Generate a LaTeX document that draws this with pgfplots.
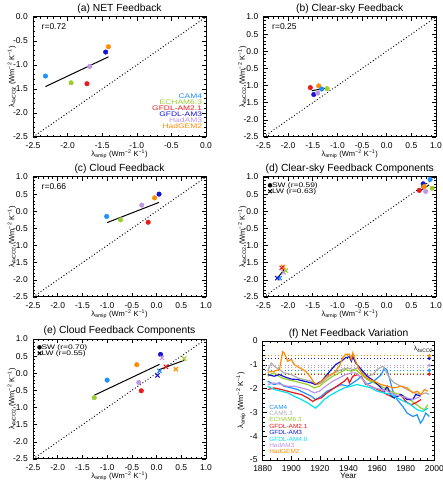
\documentclass[border=0pt]{standalone}
\usepackage{fontspec}
\setmainfont{Liberation Sans}
\newfontfamily\widesans[FakeStretch=1.28]{Liberation Sans}
\newfontfamily\narrowsans[FakeStretch=1.08]{Liberation Sans}
\usepackage{pgfplots}
\pgfplotsset{compat=1.18}

\definecolor{cCAMfour}{RGB}{30,144,255}
\definecolor{cCAMfive}{RGB}{175,175,175}
\definecolor{cECHAM}{RGB}{154,205,50}
\definecolor{cAMtwo}{RGB}{235,25,25}
\definecolor{cAMthree}{RGB}{20,20,210}
\definecolor{cAMfour}{RGB}{0,225,240}
\definecolor{cHadAM}{RGB}{190,150,230}
\definecolor{cHadGEM}{RGB}{255,140,0}

\newcommand{\lam}[1]{λ\textsubscript{#1}}
\newcommand{\units}{(Wm\textsuperscript{−2} K\textsuperscript{−1})}
% one filled model dot / one cross
\newcommand{\dotpt}[3]{\addplot[only marks, mark=*, mark size=2.3pt, color=#1, forget plot] coordinates {(#2,#3)};}
\newcommand{\crosspt}[3]{\addplot[only marks, mark=x, mark size=3pt, line width=1.1pt, color=#1, forget plot] coordinates {(#2,#3)};}

\tikzset{rtext/.style={anchor=west, font=\fontsize{8.5}{9}\selectfont}}

\pgfplotsset{
  every axis title shift=0pt,
  frame/.style={
    scale only axis, anchor=south west,
    tick align=inside,
    major tick length=4pt, minor tick length=2pt,
    axis line style={line width=1pt},
    every tick/.style={black, line width=0.6pt},
    ticklabel style={font=\fontsize{8.5}{9}\selectfont},
    xticklabel style={anchor=north, inner sep=0pt, yshift=-5pt},
    yticklabel style={anchor=east, inner sep=0pt, xshift=-5pt},
    /pgf/number format/assume math mode=true,
    title style={font=\fontsize{10.3}{11}\selectfont, at={(0.5,1)}, anchor=base, inner sep=0pt, yshift=5pt},
    label style={font=\fontsize{7.5}{8}\selectfont, inner sep=0pt},
    clip=false,
  },
  fb/.style={
    frame, width=173pt, height=120pt,
    xmin=-2.5, xmax=1, ymin=-2.5, ymax=1,
    xtick={-2.5,-2.0,-1.5,-1.0,-0.5,0.0,0.5,1.0},
    ytick={-2.5,-2.0,-1.5,-1.0,-0.5,0.0,0.5,1.0},
    minor tick num=4,
    /pgf/number format/fixed, /pgf/number format/fixed zerofill, /pgf/number format/precision=1,
    xlabel={\lam{amip} \units},
    ylabel={\lam{4xCO2} \units},
    xlabel style={at={(axis description cs:0.5,-0.145)}, anchor=center},
    ylabel style={at={(axis description cs:-0.123,0.5)}, anchor=center},
  },
  oneone/.style={black, line width=1pt, dash pattern=on 0.9pt off 2.2pt, forget plot},
  reg/.style={black, line width=1pt, forget plot},
  level/.style={#1, line width=0.8pt, dash pattern=on 0.9pt off 2.4pt},
  enddot/.style={#1, only marks, mark=*, mark size=1.5pt},
  series/.style={#1, line width=1.2pt},
  comp legend/.style={
    legend style={at={(0.025,0.955)}, anchor=north west, draw=none, fill=none,
      font=\widesans\fontsize{6.6}{7}\selectfont, row sep=0.6pt, inner sep=0pt,
      nodes={inner sep=0pt, text height=4.6pt, text depth=0.8pt}},
    legend cell align=left,
  },
}

\begin{document}
\begin{tikzpicture}
\path[use as bounding box] (0,0) rectangle (442pt,489pt);

% (a) net feedback
\begin{axis}[fb, at={(33pt,352pt)}, xmax=0, ymax=0,
  xtick={-2.5,-2.0,-1.5,-1.0,-0.5,0.0}, ytick={-2.5,-2.0,-1.5,-1.0,-0.5,0.0},
  title={(a) NET Feedback}]
\addplot[oneone] coordinates {(-2.5,-2.5) (0,0)};
\addplot[reg] coordinates {(-2.32,-1.45) (-1.41,-0.83)};
\dotpt{cCAMfour}{-2.32}{-1.23}
\dotpt{cECHAM}{-1.95}{-1.37}
\dotpt{cAMtwo}{-1.72}{-1.39}
\dotpt{cAMthree}{-1.45}{-0.73}
\dotpt{cHadAM}{-1.68}{-1.03}
\dotpt{cHadGEM}{-1.41}{-0.62}
\node[rtext] at (rel axis cs:0.03,0.92) {r=0.72};
\begin{scope}[every node/.style={anchor=east, font=\widesans\fontsize{6.6}{7}\selectfont, inner sep=0pt, text height=4.6pt, text depth=0.6pt}]
\node[text=cCAMfour] at (rel axis cs:0.978,0.340) {CAM4};
\node[text=cECHAM]   at (rel axis cs:0.978,0.290) {ECHAM6.3};
\node[text=cAMtwo]   at (rel axis cs:0.978,0.240) {GFDL-AM2.1};
\node[text=cAMthree] at (rel axis cs:0.978,0.190) {GFDL-AM3};
\node[text=cHadAM]   at (rel axis cs:0.978,0.140) {HadAM3};
\node[text=cHadGEM]  at (rel axis cs:0.978,0.090) {HadGEM2};
\end{scope}
\end{axis}

% (b) clear-sky feedback
\begin{axis}[fb, at={(263.5pt,352pt)}, width=172.5pt, title={(b) Clear-sky Feedback}]
\addplot[oneone] coordinates {(-2.5,-2.5) (1,1)};
\dotpt{cAMtwo}{-1.55}{-1.06}
\dotpt{cHadGEM}{-1.38}{-1.01}
\dotpt{cAMthree}{-1.48}{-1.26}
\dotpt{cHadAM}{-1.40}{-1.22}
\dotpt{cCAMfour}{-1.32}{-1.10}
\dotpt{cECHAM}{-1.21}{-1.09}
\addplot[reg] coordinates {(-1.52,-1.15) (-1.24,-1.08)};
\node[rtext] at (rel axis cs:0.03,0.92) {r=0.25};
\end{axis}

% (c) cloud feedback
\begin{axis}[fb, at={(33pt,192pt)}, title={(c) Cloud Feedback}]
\addplot[oneone] coordinates {(-2.5,-2.5) (1,1)};
\addplot[reg] coordinates {(-1.00,-0.33) (0.05,0.26)};
\dotpt{cCAMfour}{-1.01}{-0.15}
\dotpt{cECHAM}{-0.73}{-0.25}
\dotpt{cHadAM}{-0.30}{0.18}
\dotpt{cHadGEM}{-0.04}{0.39}
\dotpt{cAMthree}{0.05}{0.50}
\dotpt{cAMtwo}{-0.17}{-0.32}
\node[rtext] at (rel axis cs:0.03,0.92) {r=0.66};
\end{axis}

% (d) clear-sky components
\begin{axis}[fb, at={(263.5pt,192pt)}, width=172.5pt, comp legend,
  title={(d) Clear-sky Feedback Components}]
\addlegendimage{only marks, mark=*, mark size=2pt, black}
\addlegendentry{SW (r=0.59)}
\addlegendimage{only marks, mark=x, mark size=2.5pt, line width=1.1pt, black}
\addlegendentry{LW (r=0.63)}
\addplot[oneone] coordinates {(-2.5,-2.5) (1,1)};
\dotpt{cCAMfour}{0.88}{0.93}
\dotpt{cAMthree}{0.74}{0.80}
\dotpt{cHadGEM}{0.76}{0.72}
\dotpt{cAMtwo}{0.66}{0.61}
\dotpt{cHadAM}{0.79}{0.58}
\dotpt{cECHAM}{0.92}{0.67}
\addplot[reg] coordinates {(0.66,0.58) (0.86,0.77)};
\crosspt{cCAMfour}{-2.17}{-1.95}
\crosspt{cAMthree}{-2.22}{-1.95}
\crosspt{cHadAM}{-2.09}{-1.78}
\crosspt{cECHAM}{-2.05}{-1.73}
\crosspt{cHadGEM}{-2.10}{-1.62}
\crosspt{cAMtwo}{-2.13}{-1.65}
\addplot[reg] coordinates {(-2.20,-1.92) (-2.08,-1.70)};
\end{axis}

% (e) cloud components
\begin{axis}[fb, at={(33pt,30pt)}, comp legend,
  title={(e) Cloud Feedback Components}]
\addlegendimage{only marks, mark=*, mark size=2pt, black}
\addlegendentry{SW (r=0.70)}
\addlegendimage{only marks, mark=x, mark size=2.5pt, line width=1.1pt, black}
\addlegendentry{LW (r=0.55)}
\addplot[oneone] coordinates {(-2.5,-2.5) (1,1)};
\addplot[reg] coordinates {(-1.26,-0.64) (0.06,0.26)};
\addplot[reg] coordinates {(0.04,0.10) (0.56,0.38)};
\dotpt{cCAMfour}{-1.00}{-0.20}
\dotpt{cECHAM}{-1.26}{-0.71}
\dotpt{cAMtwo}{-0.31}{-0.51}
\dotpt{cAMthree}{0.08}{0.55}
\dotpt{cHadAM}{-0.36}{-0.27}
\dotpt{cHadGEM}{-0.40}{0.25}
\crosspt{cCAMfour}{0.06}{0.07}
\crosspt{cAMthree}{0.02}{-0.06}
\crosspt{cHadAM}{0.11}{0.45}
\crosspt{cAMtwo}{0.19}{0.19}
\crosspt{cHadGEM}{0.39}{0.12}
\crosspt{cECHAM}{0.56}{0.43}
\end{axis}

% (f) time series of lambda_amip
\begin{axis}[frame, at={(262.7pt,29pt)}, width=171.6pt, height=119pt,
  xmin=1880, xmax=2000, ymin=-5, ymax=0,
  xtick={1880,1900,1920,1940,1960,1980,2000}, ytick={-5,-4,-3,-2,-1,0},
  minor x tick num=3, minor y tick num=4,
  xticklabel style={/pgf/number format/1000 sep=},
  title={(f) Net Feedback Variation},
  xlabel={Year}, ylabel={\lam{amip} \units},
  xlabel style={at={(axis description cs:0.5,-0.135)}, anchor=center, font=\fontsize{8}{8}\selectfont},
  ylabel style={at={(axis description cs:-0.126,0.5)}, anchor=center}]
% lambda_4xCO2 reference levels
\addplot[level=cHadGEM]  coordinates {(1881.5,-0.62) (1996,-0.62)};
\addplot[level=cAMthree] coordinates {(1881.5,-0.73) (1996,-0.73)};
\addplot[level=cHadAM]   coordinates {(1881.5,-1.03) (1996,-1.03)};
\addplot[level=cCAMfive] coordinates {(1881.5,-1.12) (1996,-1.12)};
\addplot[level=cCAMfour] coordinates {(1881.5,-1.23) (1996,-1.23)};
\addplot[level=cECHAM]   coordinates {(1881.5,-1.36) (1996,-1.36)};
\addplot[level=cAMtwo]   coordinates {(1881.5,-1.39) (1996,-1.39)};
% running feedback of each model
\addplot[series=cCAMfour] coordinates {(1883.5,-1.69)(1888,-1.83)(1891.7,-1.76)(1895,-1.9)(1900,-1.97)(1904.5,-2.04)(1909,-2.18)(1914,-2.32)(1917,-2.46)(1921,-2.32)(1925,-2.11)(1930,-1.97)(1935,-1.83)(1939.4,-1.9)(1943,-1.76)(1946.4,-1.62)(1949,-1.48)(1952,-1.83)(1955.7,-1.76)(1959,-1.62)(1963,-1.41)(1965,-1.13)(1966.7,-1.2)(1968.6,-1.55)(1971,-2.11)(1974,-2.46)(1978,-2.75)(1981,-3.03)(1985,-3.17)(1988,-3.1)(1990.3,-3.45)(1992,-3.31)(1994,-3.03)(1996.5,-3.17)};
\addplot[series=cCAMfive] coordinates {(1883.5,-1.27)(1886,-0.92)(1888,-1.06)(1891.7,-1.2)(1895,-1.34)(1900,-1.41)(1904.5,-1.55)(1909,-1.62)(1914,-1.69)(1917,-1.83)(1921,-1.76)(1925,-1.55)(1930,-1.34)(1935,-1.2)(1939.4,-1.13)(1943,-1.2)(1946.4,-1.13)(1950,-1.34)(1953,-1.48)(1957,-1.41)(1960,-1.2)(1964,-1.06)(1966,-1.27)(1968.6,-1.55)(1972,-1.76)(1976.7,-1.9)(1981,-2.04)(1986,-2.18)(1990.7,-2.25)(1994,-2.18)(1996.5,-2.25)};
\addplot[series=cECHAM] coordinates {(1883.5,-1.48)(1888,-1.34)(1893,-1.55)(1897.5,-1.62)(1902,-1.69)(1907,-1.76)(1911.5,-1.83)(1916,-1.97)(1919.6,-1.9)(1924,-1.69)(1929,-1.48)(1933.6,-1.34)(1938,-1.2)(1942,-1.27)(1945,-1.2)(1949,-1.41)(1953,-1.62)(1958,-1.76)(1962.8,-1.9)(1967,-2.04)(1972,-2.18)(1976.7,-2.25)(1981,-2.39)(1986,-2.6)(1990.7,-2.82)(1993,-2.89)(1995.4,-2.68)};
\addplot[series=cAMtwo] coordinates {(1883.5,-2.04)(1888,-1.97)(1893,-2.04)(1897.5,-2.11)(1902,-2.18)(1907,-2.25)(1911.5,-2.39)(1915,-2.54)(1917,-2.46)(1921,-2.39)(1925,-2.18)(1930,-1.97)(1933.6,-1.83)(1937,-1.69)(1939.4,-1.55)(1940.6,-1.76)(1943,-1.48)(1946.4,-1.41)(1949,-1.55)(1953,-1.83)(1958,-1.97)(1962.8,-2.11)(1967,-2.25)(1972,-2.39)(1976.7,-2.25)(1980,-2.54)(1983.7,-2.68)(1987,-2.6)(1990.7,-2.46)};
\addplot[series=cAMthree] coordinates {(1883.5,-1.41)(1888,-1.48)(1891.7,-1.41)(1895,-1.5)(1900,-1.6)(1904.5,-1.62)(1909,-1.69)(1914,-1.76)(1917,-1.83)(1921,-1.69)(1924,-1.48)(1928,-1.2)(1931,-0.99)(1935,-0.85)(1938,-0.7)(1940.6,-0.66)(1942,-0.85)(1943,-0.66)(1945,-0.92)(1949,-1.2)(1953,-1.48)(1958,-1.69)(1961.6,-1.9)(1965,-2.11)(1967,-1.9)(1970,-2.32)(1972,-2.39)(1976.7,-2.25)(1981,-2.46)(1985,-2.46)(1987,-2.25)(1990.7,-2.32)};
\addplot[series=cAMfour] coordinates {(1883.5,-1.9)(1888,-2.04)(1893,-2.11)(1897.5,-2.18)(1902,-2.32)(1907,-2.46)(1911.5,-2.6)(1915,-2.75)(1917,-2.82)(1919.6,-2.68)(1923,-2.46)(1928,-2.25)(1932.4,-2.11)(1937,-1.97)(1941.8,-1.9)(1946,-1.83)(1951,-1.9)(1955.7,-1.97)(1960,-2.11)(1965,-2.18)(1969.7,-2.25)(1974,-2.39)(1979,-2.54)(1983.7,-2.68)(1988,-2.89)(1992,-2.96)(1995.4,-2.82)};
\addplot[series=cHadAM] coordinates {(1883.5,-1.83)(1888,-1.76)(1893,-1.83)(1897.5,-1.9)(1902,-1.9)(1907,-1.97)(1911.5,-2.04)(1916,-2.18)(1919.6,-2.11)(1924,-1.9)(1929,-1.69)(1933.6,-1.55)(1938,-1.41)(1942,-1.34)(1945,-1.34)(1949,-1.55)(1953,-1.83)(1958,-1.97)(1962.8,-2.04)(1967,-2.11)(1972,-2.25)(1976.7,-2.32)(1981,-2.39)(1985,-2.46)(1988,-2.39)(1990.7,-2.32)};
\addplot[series=cHadGEM] coordinates {(1883.5,-1.31)(1888,-1.27)(1891.7,-1.2)(1894,-0.45)(1895,-0.5)(1897.5,-0.85)(1900,-0.77)(1902,-0.99)(1907,-1.17)(1910,-1.27)(1913,-1.48)(1916,-1.76)(1918.5,-1.83)(1921,-1.69)(1925,-1.48)(1930,-1.34)(1933.6,-1.06)(1936,-0.7)(1938,-0.56)(1940.6,-0.56)(1942,-0.77)(1943,-0.5)(1945,-0.85)(1947.6,-1.2)(1951,-1.48)(1954.6,-1.62)(1958,-1.69)(1962.8,-1.83)(1967,-1.9)(1972,-1.97)(1976.7,-1.9)(1981,-1.97)(1985,-2.18)(1988,-2.11)(1990.7,-2.25)(1993,-2.04)(1995.4,-2.11)};
% lambda_4xCO2 end dots
\addplot[enddot=cAMtwo]   coordinates {(1996.5,-1.39)};
\addplot[enddot=cCAMfour] coordinates {(1996.5,-1.23)};
\addplot[enddot=cHadAM]   coordinates {(1996.5,-1.03)};
\addplot[enddot=cAMthree] coordinates {(1996.5,-0.73)};
\addplot[enddot=cHadGEM]  coordinates {(1996.5,-0.62)};
\node[anchor=east, font=\fontsize{6}{6}\selectfont, inner sep=0pt] at (rel axis cs:0.995,0.93) {\lam{4xCO2}};
\begin{scope}[every node/.style={anchor=west, font=\narrowsans\fontsize{6}{6}\selectfont, inner sep=0pt}]
\node[text=cCAMfour] at (rel axis cs:0.037,0.443) {CAM4};
\node[text=cCAMfive] at (rel axis cs:0.037,0.390) {CAM5.3};
\node[text=cECHAM]   at (rel axis cs:0.037,0.337) {ECHAM6.3};
\node[text=cAMtwo]   at (rel axis cs:0.037,0.283) {GFDL-AM2.1};
\node[text=cAMthree] at (rel axis cs:0.037,0.230) {GFDL-AM3};
\node[text=cAMfour]  at (rel axis cs:0.037,0.177) {GFDL-AM4.0};
\node[text=cHadAM]   at (rel axis cs:0.037,0.123) {HadAM3};
\node[text=cHadGEM]  at (rel axis cs:0.037,0.070) {HadGEM2};
\end{scope}
\end{axis}
\end{tikzpicture}
\end{document}
